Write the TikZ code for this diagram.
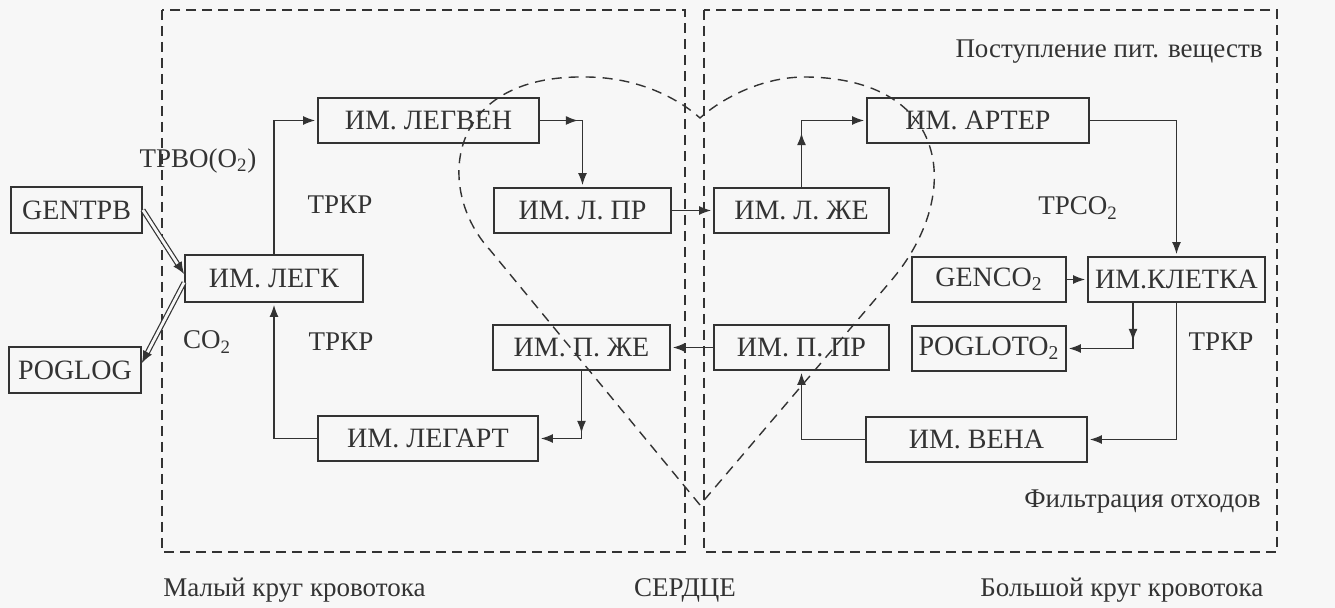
\documentclass[tikz,border=0pt]{standalone}
\usepackage{fontspec}
\setmainfont{Liberation Serif}
\usetikzlibrary{arrows.meta,calc,decorations.markings}
\definecolor{ink}{HTML}{333333}
\definecolor{bg}{HTML}{F7F7F7}
\tikzset{
  box/.style={draw=ink, line width=0.9pt, inner sep=0pt, font=\fontsize{14}{16}\selectfont, text=ink, minimum height=22.5pt},
  conn/.style={draw=ink, line width=0.7pt, -{Latex[length=6pt,width=4.5pt]}, shorten >=1pt},
  dbl/.style={draw=ink, double=bg, double distance=1.4pt, line width=0.6pt, -{Latex[length=6pt,width=5pt]}},
  region/.style={draw=ink, line width=0.8pt, dash pattern=on 5pt off 3pt},
  heart/.style={draw=ink, line width=0.7pt, dash pattern=on 5pt off 3.5pt},
  lbl/.style={font=\fontsize{13.5}{16}\selectfont, text=ink, inner sep=0pt},
  tipat/.style={postaction={decorate}, decoration={markings, mark=at position #1 with {\arrow{Latex[length=6pt,width=4.5pt]}}}},
}
\begin{document}
\begin{tikzpicture}[x=0.5pt, y=-0.5pt]
\fill[bg] (0,0) rectangle (1335,608);
\useasboundingbox (0,0) rectangle (1335,608);

% regions
\draw[region] (162,10) rectangle (685,552);
\draw[region] (704,10) rectangle (1277,552);

% heart
\draw[heart] (700,505) -- (490,250) .. controls (435,190) and (445,75) .. (585,77)
  .. controls (640,77) and (680,100) .. (700,118)
  .. controls (720,100) and (760,77) .. (805,77)
  .. controls (950,78) and (965,195) .. (890,282) -- cycle;

% nodes
\node[box, minimum width=65.5pt, minimum height=23pt] (gentpb) at (76.5,210) {GENTPB};
\node[box, minimum width=89pt, minimum height=23.5pt] (legk) at (274,278.5) {ИМ. ЛЕГК};
\node[box, minimum width=66pt, minimum height=23pt] (poglog) at (75,370) {POGLOG};
\node[box, minimum width=110.5pt] (legven) at (428.5,120.5) {ИМ. ЛЕГВЕН};
\node[box, minimum width=88.5pt] (lpr) at (582.5,210.5) {ИМ. Л. ПР};
\node[box, minimum width=87.5pt] (lze) at (801.5,210.5) {ИМ. Л. ЖЕ};
\node[box, minimum width=111pt] (arter) at (978,120.5) {ИМ. АРТЕР};
\node[box, minimum width=88.5pt] (kletka) at (1176.5,279.5) {ИМ.КЛЕТКА};
\node[box, minimum width=77pt] (genco) at (989,279.5) {GENCO\textsubscript{2}};
\node[box, minimum width=77pt] (pogloto) at (989,348.5) {POGLOTO\textsubscript{2}};
\node[box, minimum width=110.5pt] (vena) at (976.5,439.5) {ИМ. ВЕНА};
\node[box, minimum width=110pt] (legart) at (428,438.5) {ИМ. ЛЕГАРТ};
\node[box, minimum width=88.5pt] (pze) at (581.5,347.5) {ИМ. П. ЖЕ};
\node[box, minimum width=87.5pt] (ppr) at (801.5,347.5) {ИМ. П. ПР};

% connectors
\draw[conn] (legk.north) |- (legven.west);
\draw[conn, tipat=19pt] (legven.east) -| (lpr.north);
\draw[conn] (lpr.east) -- (lze.west);
\draw[conn, tipat=27pt] (lze.north) |- (arter.west);
\draw[conn] (arter.east) -| (kletka.north);
\draw[conn] (genco.east) -- (kletka.west);
\draw[conn, tipat=19pt] ([xshift=-21.75pt]kletka.south) |- (pogloto.east);
\draw[conn] (kletka.south) |- (vena.east);
\draw[conn] (vena.west) -| (ppr.south);
\draw[conn] (ppr.west) -- (pze.east);
\draw[conn, tipat=31pt] (pze.south) |- (legart.east);
\draw[conn] (legart.west) -| (legk.south);

% double arrows
\draw[dbl] (gentpb.east) -- ([yshift=2.25pt]legk.west);
\draw[dbl] ([yshift=-2pt]legk.west) -- ([yshift=3.5pt]poglog.east);

% labels
\node[lbl] (l1) at (198,161) {ТРВО(O\textsubscript{2})};
\node[lbl] (l2) at (340,205) {ТРКР};
\node[lbl] (l3) at (207,342) {CO\textsubscript{2}};
\node[lbl] (l4) at (341,342) {ТРКР};
\node[lbl] (l5) at (1078,208) {ТРCO\textsubscript{2}};
\node[lbl] (l6) at (1221,342) {ТРКР};
\node[lbl, anchor=east] (l7) at (1263,52) {Поступление пит. веществ};
\node[lbl, anchor=east] (l8) at (1261,502) {Фильтрация отходов};
\node[lbl, anchor=west] (l9) at (163,590) {Малый круг кровотока};
\node[lbl] (l10) at (685,590) {СЕРДЦЕ};
\node[lbl, anchor=west] (l11) at (980,590) {Большой круг кровотока};
\end{tikzpicture}
\end{document}
